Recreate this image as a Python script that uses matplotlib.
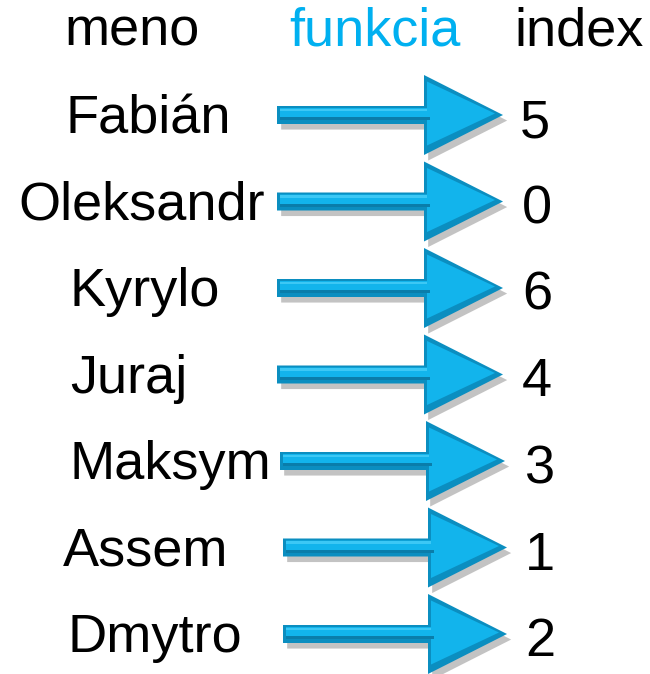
import matplotlib
matplotlib.use("Agg")
import matplotlib.pyplot as plt
from matplotlib.patches import Polygon
import matplotlib.patheffects as pe

headers = ["meno", "funkcia", "index"]
names = ["Fabián", "Oleksandr", "Kyrylo", "Juraj", "Maksym", "Assem", "Dmytro"]
indices = [5, 0, 6, 4, 3, 1, 2]

fig = plt.figure(figsize=(6.5, 6.74), dpi=100)
ax = fig.add_axes([0, 0, 1, 1])
ax.set_xlim(0, 650)
ax.set_ylim(674, 0)
ax.axis("off")

FONT = "Liberation Sans"
FS = 39

ax.text(132, 32, headers[0], fontsize=FS, family=FONT, ha="center", va="center", color="black")
ax.text(375, 32, headers[1], fontsize=FS, family=FONT, ha="center", va="center", color="#00B0F0")
ax.text(579, 32, headers[2], fontsize=FS, family=FONT, ha="center", va="center", color="black")

name_x = [65, 18, 70, 70, 70, 63, 68]
shaft_x0 = [277, 277, 277, 277, 280, 283, 283]
tip_dx = [0, 0, 0, 0, 2, 4, 4]
idx_x = [535, 537, 537, 537, 540, 540, 540]

def arrow_poly(x0, xh, xt, yc, sh, hh):
    return [(x0, yc - sh / 2), (xh, yc - sh / 2), (xh, yc - hh / 2), (xt, yc),
            (xh, yc + hh / 2), (xh, yc + sh / 2), (x0, yc + sh / 2)]

for i, (nm, ix) in enumerate(zip(names, indices)):
    yc = 115 + i * 86.5
    x0 = shaft_x0[i]
    xh = 424 + tip_dx[i]
    xt = 503 + tip_dx[i]
    base = Polygon(arrow_poly(x0, xh, xt, yc, 18, 80), closed=True,
                   facecolor="#0B8EC0", edgecolor="none", zorder=2)
    base.set_path_effects([pe.SimplePatchShadow(offset=(3, -4), shadow_rgbFace="#555555", alpha=0.35),
                           pe.Normal()])
    ax.add_patch(base)
    inner = Polygon(arrow_poly(x0 + 3, xh + 3, xt - 8, yc - 1.5, 11, 64), closed=True,
                    facecolor="#12B4EC", edgecolor="none", zorder=3)
    ax.add_patch(inner)
    hl = Polygon([(x0 + 3, yc - 6.5), (xh + 3, yc - 6.5), (xh + 3, yc - 4), (x0 + 3, yc - 4)],
                 closed=True, facecolor="#3CC8F5", edgecolor="none", zorder=4)
    ax.add_patch(hl)
    dk = Polygon([(x0 + 3, yc + 2), (xh + 6, yc + 2), (xh + 6, yc + 5), (x0 + 3, yc + 5)],
                 closed=True, facecolor="#0A7DAA", edgecolor="none", zorder=4)
    ax.add_patch(dk)

    ax.text(name_x[i], yc + 4, nm, fontsize=FS, family=FONT, ha="left", va="center", color="black")
    ax.text(idx_x[i], yc + 8, str(ix), fontsize=FS, family=FONT, ha="center", va="center", color="black")

fig.savefig("out.png", dpi=100)
